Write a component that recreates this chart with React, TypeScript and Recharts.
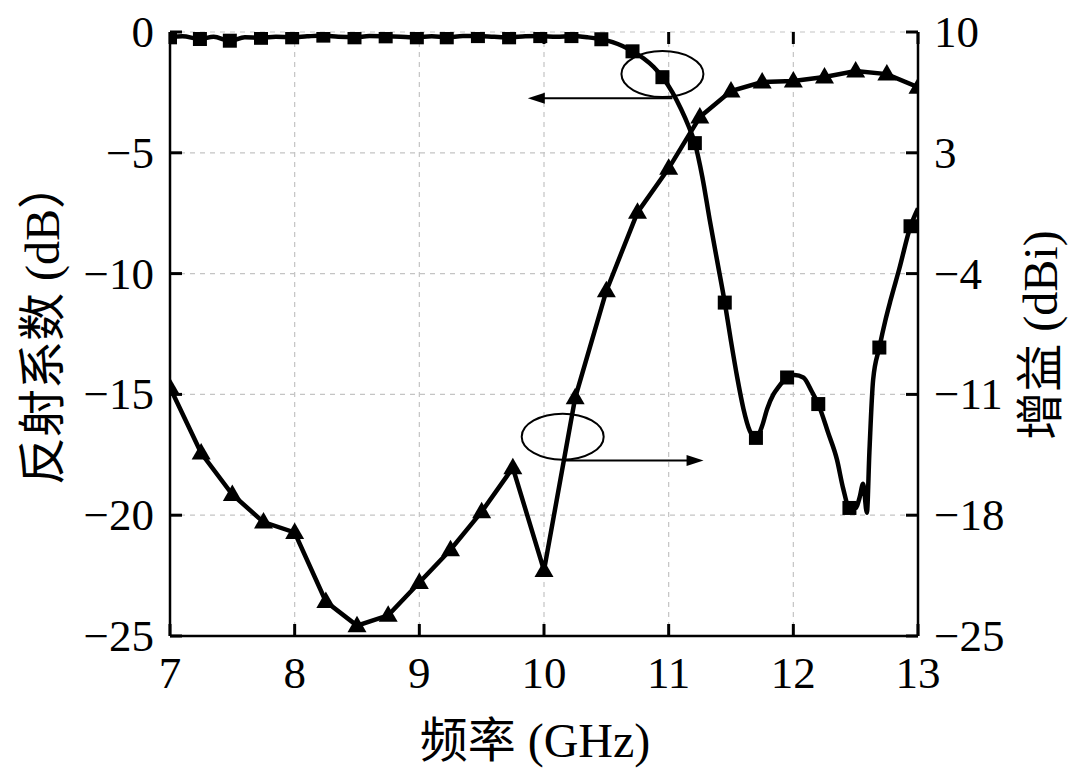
import React from "react";
import {
  LineChart,
  Line,
  XAxis,
  YAxis,
  CartesianGrid,
  ReferenceDot,
  ReferenceLine,
} from "recharts";

const FONT = "'Liberation Serif', 'Noto Sans CJK SC', serif";

// x ticks (GHz) and y ticks
const freqTicks = [7, 8, 9, 10, 11, 12, 13];
const s11Ticks = [0, -5, -10, -15, -20, -25];
const gainTicks = [10, 3, -4, -11, -18, -25];

// reflection coefficient curve (dB)
const s11CurveFreq = [
  7.0, 7.1, 7.24, 7.35, 7.48, 7.6, 7.73, 7.85, 7.98, 8.1, 8.23, 8.35, 8.48,
  8.6, 8.73, 8.85, 8.98, 9.1, 9.22, 9.35, 9.47, 9.6, 9.72, 9.85, 9.97, 10.1,
  10.22, 10.35, 10.46, 10.55, 10.63, 10.71, 10.8, 10.88, 10.95, 11.03, 11.1,
  11.16, 11.21, 11.27, 11.33, 11.39, 11.45, 11.5, 11.55, 11.6, 11.65, 11.7,
  11.75, 11.79, 11.84, 11.88, 11.95, 12.01, 12.08, 12.15, 12.2, 12.28, 12.35,
  12.4, 12.45, 12.5, 12.53, 12.56, 12.59, 12.61, 12.64, 12.69, 12.74, 12.78,
  12.85, 12.94, 13.0,
];
const s11CurveDb = [
  -0.22, -0.18, -0.29, -0.2, -0.36, -0.22, -0.24, -0.2, -0.22, -0.18, -0.15,
  -0.2, -0.22, -0.17, -0.18, -0.2, -0.22, -0.18, -0.22, -0.17, -0.17, -0.2,
  -0.22, -0.18, -0.17, -0.2, -0.17, -0.22, -0.3, -0.42, -0.58, -0.8, -1.1,
  -1.45, -1.87, -2.5, -3.2, -3.9, -4.6, -6.0, -7.8, -9.5, -11.2, -12.8, -14.3,
  -15.6, -16.5, -16.8, -16.3, -15.6, -15.0, -14.7, -14.3, -14.2, -14.3, -14.9,
  -15.4, -16.6, -17.7, -18.9, -19.7, -19.7, -19.3, -18.7, -19.9, -17.4, -14.4,
  -13.06, -11.9, -11.1, -9.8, -8.04, -7.3,
];

// square markers on the reflection curve
const s11MarkerFreq = [
  7.0, 7.24, 7.48, 7.73, 7.98, 8.23, 8.48, 8.73, 8.98, 9.22, 9.47, 9.72, 9.97,
  10.22, 10.46, 10.71, 10.95, 11.21, 11.45, 11.7, 11.95, 12.2, 12.45, 12.69,
  12.94,
];
const s11MarkerDb = [
  -0.22, -0.29, -0.36, -0.24, -0.22, -0.15, -0.22, -0.18, -0.22, -0.22, -0.17,
  -0.22, -0.17, -0.17, -0.3, -0.8, -1.87, -4.6, -11.2, -16.8, -14.3, -15.4,
  -19.7, -13.06, -8.04,
];

// gain (dBi)
const gainFreq = [
  7.0, 7.25, 7.5, 7.75, 8.0, 8.25, 8.5, 8.75, 9.0, 9.25, 9.5, 9.75, 10.0,
  10.25, 10.5, 10.75, 11.0, 11.25, 11.5, 11.75, 12.0, 12.25, 12.5, 12.75, 13.0,
];
const gainDbi = [
  -10.6, -14.4, -16.8, -18.4, -19.0, -23.0, -24.4, -23.8, -21.9, -20.0, -17.8,
  -15.25, -21.2, -11.2, -5.0, -0.45, 2.1, 5.07, 6.58, 7.1, 7.16, 7.39, 7.74,
  7.56, 6.8,
];

const s11Curve = s11CurveFreq.map((f, i) => ({ f, v: s11CurveDb[i] }));
const s11Markers = s11MarkerFreq.map((f, i) => ({ f, v: s11MarkerDb[i] }));
const gainData = gainFreq.map((f, i) => ({ f, v: gainDbi[i] }));

const fmt = (v: number) => (v < 0 ? "\u2212" + Math.abs(v) : String(v));

// plot box edges in svg pixels
const LEFT = 162;
const RIGHT = 910;
const TOP = 24;
const BOTTOM = 628;
const TICK = 12;

const textProps = { fontSize: 45, fill: "#000", fontFamily: FONT };

const LeftTick = (props: any) => (
  <text {...textProps} x={LEFT - 16} y={props.y} textAnchor="end" dominantBaseline="central">
    {fmt(props.payload.value)}
  </text>
);

const RightTick = (props: any) => (
  <text {...textProps} x={RIGHT + 16} y={props.y} textAnchor="start" dominantBaseline="central">
    {fmt(props.payload.value)}
  </text>
);

const BottomTick = (props: any) => (
  <text {...textProps} x={props.x} y={BOTTOM + 52} textAnchor="middle">
    {props.payload.value}
  </text>
);

// inward tick marks, drawn at both ends of a full-width / full-height segment
const HTicks = (props: any) => {
  const { x1, y1, x2, y2 } = props;
  const l = Math.min(x1, x2);
  const r = Math.max(x1, x2);
  return (
    <g>
      <line x1={l} x2={l + TICK} y1={y1} y2={y2} stroke="#000" strokeWidth={3} />
      <line x1={r - TICK} x2={r} y1={y1} y2={y2} stroke="#000" strokeWidth={3} />
    </g>
  );
};

const VTicks = (props: any) => {
  const { x1, y1, x2, y2 } = props;
  const t = Math.min(y1, y2);
  const b = Math.max(y1, y2);
  return (
    <g>
      <line x1={x1} x2={x2} y1={t} y2={t + TICK} stroke="#000" strokeWidth={3} />
      <line x1={x1} x2={x2} y1={b - TICK} y2={b} stroke="#000" strokeWidth={3} />
    </g>
  );
};

const SquareDot = (props: any) => {
  const { cx, cy } = props;
  if (cx == null || cy == null) return null;
  return <rect x={cx - 7} y={cy - 7} width={14} height={14} fill="#000" />;
};

const TriangleDot = (props: any) => {
  const { cx, cy } = props;
  if (cx == null || cy == null) return null;
  return (
    <polygon
      points={`${cx},${cy - 10} ${cx - 9.5},${cy + 6.5} ${cx + 9.5},${cy + 6.5}`}
      fill="#000"
    />
  );
};

const Arrow = (props: any) => {
  const { x1, y1, x2, y2 } = props;
  const dir = x2 > x1 ? 1 : -1;
  return (
    <g>
      <line x1={x1} y1={y1} x2={x2 - dir * 12} y2={y2} stroke="#000" strokeWidth={2} />
      <polygon
        points={`${x2},${y2} ${x2 - dir * 17},${y2 - 5.5} ${x2 - dir * 17},${y2 + 5.5}`}
        fill="#000"
      />
    </g>
  );
};

const Ellipse = (props: any) => (
  <ellipse
    cx={props.cx}
    cy={props.cy}
    rx={41}
    ry={23}
    fill="none"
    stroke="#000"
    strokeWidth={2}
  />
);

const axisLine = { stroke: "#000", strokeWidth: 2.5 };

export default function App() {
  return (
    <div style={{ width: 1062, height: 766 }}>
      <LineChart
        width={1062}
        height={766}
        margin={{ top: TOP, right: 0, bottom: 8, left: 0 }}
      >
        <CartesianGrid
          xAxisId="bottom"
          yAxisId="left"
          stroke="#c4c4c4"
          strokeWidth={1.2}
          strokeDasharray="5 5"
        />
        <XAxis
          xAxisId="bottom"
          dataKey="f"
          type="number"
          domain={[7, 13]}
          ticks={freqTicks}
          interval={0}
          allowDataOverflow
          height={130}
          tickLine={false}
          tick={<BottomTick />}
          axisLine={axisLine}
          label={(p: any) => {
            const vb = p.viewBox;
            return (
              <text
                x={vb.x + vb.width / 2 - 9}
                y={749}
                textAnchor="middle"
                fontSize={48}
                fontFamily={FONT}
                fill="#000"
              >
                频率 (GHz)
              </text>
            );
          }}
        />
        <XAxis
          xAxisId="top"
          orientation="top"
          dataKey="f"
          type="number"
          domain={[7, 13]}
          ticks={freqTicks}
          interval={0}
          height={0}
          tickLine={false}
          tick={false}
          axisLine={axisLine}
        />
        <YAxis
          yAxisId="left"
          type="number"
          domain={[-25, 0]}
          ticks={s11Ticks}
          interval={0}
          allowDataOverflow
          width={LEFT}
          tickLine={false}
          tick={<LeftTick />}
          axisLine={axisLine}
          label={(p: any) => {
            const vb = p.viewBox;
            const cy = vb.y + vb.height / 2 - 11;
            return (
              <text
                x={34}
                y={cy}
                transform={`rotate(-90, 34, ${cy})`}
                textAnchor="middle"
                dominantBaseline="central"
                fontSize={48}
                fontFamily={FONT}
                fill="#000"
              >
                反射系数 (dB）
              </text>
            );
          }}
        />
        <YAxis
          yAxisId="right"
          orientation="right"
          type="number"
          domain={[-25, 10]}
          ticks={gainTicks}
          interval={0}
          allowDataOverflow
          width={152}
          tickLine={false}
          tick={<RightTick />}
          axisLine={axisLine}
          label={(p: any) => {
            const vb = p.viewBox;
            const cy = vb.y + vb.height / 2 + 1;
            return (
              <text
                x={1032}
                y={cy}
                transform={`rotate(-90, 1032, ${cy})`}
                textAnchor="middle"
                dominantBaseline="central"
                fontSize={48}
                fontFamily={FONT}
                fill="#000"
              >
                增益 (dBi)
              </text>
            );
          }}
        />
        {s11Ticks.map((v) => (
          <ReferenceLine
            key={`h${v}`}
            xAxisId="bottom"
            yAxisId="left"
            segment={[
              { x: 7, y: v },
              { x: 13, y: v },
            ]}
            ifOverflow="visible"
            shape={<HTicks />}
          />
        ))}
        {freqTicks.map((f) => (
          <ReferenceLine
            key={`v${f}`}
            xAxisId="bottom"
            yAxisId="left"
            segment={[
              { x: f, y: -25 },
              { x: f, y: 0 },
            ]}
            ifOverflow="visible"
            shape={<VTicks />}
          />
        ))}
        <Line
          xAxisId="bottom"
          yAxisId="left"
          data={s11Curve}
          dataKey="v"
          type="monotone"
          stroke="#000"
          strokeWidth={4.5}
          dot={false}
          activeDot={false}
          isAnimationActive={false}
        />
        <Line
          xAxisId="bottom"
          yAxisId="left"
          data={s11Markers}
          dataKey="v"
          stroke="none"
          dot={<SquareDot />}
          activeDot={false}
          isAnimationActive={false}
        />
        <Line
          xAxisId="bottom"
          yAxisId="right"
          data={gainData}
          dataKey="v"
          type="linear"
          stroke="#000"
          strokeWidth={4.5}
          dot={<TriangleDot />}
          activeDot={false}
          isAnimationActive={false}
        />
        <ReferenceDot
          xAxisId="bottom"
          yAxisId="left"
          x={10.95}
          y={-1.74}
          r={1}
          shape={<Ellipse />}
        />
        <ReferenceDot
          xAxisId="bottom"
          yAxisId="left"
          x={10.15}
          y={-16.75}
          r={1}
          shape={<Ellipse />}
        />
        <ReferenceLine
          xAxisId="bottom"
          yAxisId="left"
          segment={[
            { x: 11.03, y: -2.74 },
            { x: 9.87, y: -2.74 },
          ]}
          shape={<Arrow />}
        />
        <ReferenceLine
          xAxisId="bottom"
          yAxisId="left"
          segment={[
            { x: 10.15, y: -17.74 },
            { x: 11.28, y: -17.74 },
          ]}
          shape={<Arrow />}
        />
      </LineChart>
    </div>
  );
}
